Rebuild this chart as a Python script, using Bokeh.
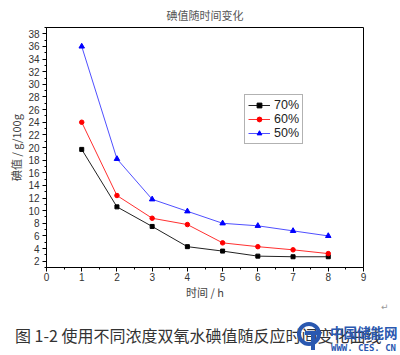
from bokeh.plotting import figure
from bokeh.models import Legend, LegendItem, Range1d, FixedTicker, Div
from bokeh.layouts import column
from bokeh.embed import file_html
from bokeh.resources import INLINE

time_h = [1, 2, 3, 4, 5, 6, 7, 8]
s70 = [19.7, 10.6, 7.5, 4.3, 3.6, 2.8, 2.7, 2.7]
s60 = [24.0, 12.4, 8.8, 7.8, 4.9, 4.3, 3.8, 3.2]
s50 = [36.0, 18.2, 11.8, 9.9, 8.0, 7.6, 6.8, 6.0]
x_ticks = list(range(0, 10))
y_ticks = list(range(2, 39, 2))
series_labels = ["70%", "60%", "50%"]

title_text = "碘值随时间变化"
x_label = "时间 / h"
y_label = "碘值 / g/100g"
caption = "图 1-2 使用不同浓度双氧水碘值随反应时间变化曲线"
wm_cn = "中国储能网"
wm_en = "WWW. CES. CN"

cjk = "Noto Sans CJK SC"

p = figure(width=400, height=300, output_backend="svg", toolbar_location=None,
           x_range=Range1d(0, 9), y_range=Range1d(1, 39),
           min_border_left=46, min_border_right=37, min_border_top=26, min_border_bottom=34)
p.frame_width = 317
p.frame_height = 240
p.grid.visible = False
p.outline_line_color = "black"
p.outline_line_width = 1
p.background_fill_color = "white"
p.border_fill_color = "white"

p.title.text = title_text
p.title.align = "center"
p.title.text_font = cjk
p.title.text_font_size = "11px"
p.title.text_font_style = "normal"
p.title.text_color = "#555555"
p.title.standoff = 9

for ax in (p.xaxis[0], p.yaxis[0]):
    ax.axis_line_color = "black"
    ax.major_tick_line_color = "black"
    ax.minor_tick_line_color = "black"
    ax.major_tick_out = 4
    ax.major_tick_in = 0
    ax.minor_tick_out = 2
    ax.minor_tick_in = 0
    ax.major_label_text_font = "Liberation Sans"
    ax.major_label_text_font_size = "10px"
    ax.major_label_text_color = "#333333"
    ax.major_label_standoff = 3
    ax.axis_label_text_font = cjk
    ax.axis_label_text_font_size = "11px"
    ax.axis_label_text_font_style = "normal"
    ax.axis_label_text_color = "#444444"

p.xaxis[0].axis_label = x_label
p.xaxis[0].major_label_standoff = 1
p.xaxis[0].axis_label_standoff = 0
p.yaxis[0].axis_label = y_label
p.yaxis[0].axis_label_standoff = 1

p.xaxis[0].ticker = FixedTicker(ticks=x_ticks, minor_ticks=[i + 0.5 for i in range(9)])
p.yaxis[0].ticker = FixedTicker(ticks=y_ticks, minor_ticks=list(range(1, 40, 2)))

r70 = p.line(time_h, s70, color="#222222", line_width=1)
m70 = p.scatter(time_h, s70, marker="square", size=4, color="black")
r60 = p.line(time_h, s60, color="#ff3030", line_width=1)
m60 = p.scatter(time_h, s60, marker="circle", size=4.5, color="red")
r50 = p.line(time_h, s50, color="#5050ff", line_width=1)
m50 = p.scatter(time_h, s50, marker="triangle", size=5.5, color="blue")

legend = Legend(items=[LegendItem(label=series_labels[0], renderers=[r70, m70]),
                       LegendItem(label=series_labels[1], renderers=[r60, m60]),
                       LegendItem(label=series_labels[2], renderers=[r50, m50])],
                location=(198, 123), border_line_color="#666666",
                label_text_font="Liberation Sans", label_text_font_size="12.5px",
                label_text_color="#222222", glyph_width=22, glyph_height=12,
                label_height=12, spacing=0, padding=3, margin=0,
                label_standoff=4, background_fill_alpha=1)
p.add_layout(legend, "center")

html = f"""
<div style="position:relative;width:400px;height:55px;background:white;overflow:hidden;">
  <span style="position:absolute;left:381px;top:0px;font-family:'DejaVu Sans';font-size:9px;line-height:10px;color:#999999;">&#8629;</span>
  <span style="position:absolute;left:15px;top:22px;font-family:'{cjk}';font-size:16px;line-height:22px;color:#333333;white-space:nowrap;">{caption}</span>
  <div style="position:absolute;left:297px;top:20px;width:24px;height:24px;border:4px solid #2a58b0;border-radius:50%;"></div>
  <div style="position:absolute;left:305px;top:29px;width:16px;height:4px;background:#2a58b0;"></div>
  <div style="position:absolute;left:311px;top:29px;width:4px;height:19px;background:#2a58b0;"></div>
  <span style="position:absolute;left:330px;top:21px;font-family:'{cjk}';font-size:13.5px;font-weight:bold;line-height:18px;color:#2a58b0;white-space:nowrap;">{wm_cn}</span>
  <span style="position:absolute;left:331px;top:41px;font-family:'DejaVu Sans Mono';font-size:9px;font-weight:bold;line-height:10px;color:#2a58b0;white-space:nowrap;">{wm_en}</span>
</div>
"""
div = Div(text=html, width=400, height=55, margin=0)

layout = column(p, div, spacing=0)
open("out.html", "w").write(file_html(layout, INLINE))
